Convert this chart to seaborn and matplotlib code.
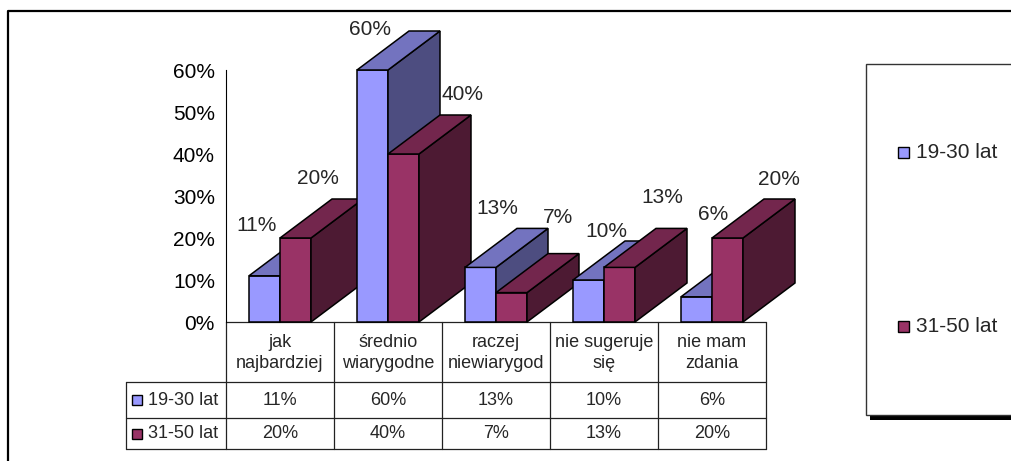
import numpy as np
import pandas as pd
import matplotlib
matplotlib.use("Agg")
import matplotlib.pyplot as plt
import seaborn as sns
from matplotlib.patches import Polygon, Rectangle

# data
categories = ["jak\nnajbardziej", "średnio\nwiarygodne", "raczej\nniewiarygod",
              "nie sugeruje\nsię", "nie mam\nzdania"]
series = ["19-30 lat", "31-50 lat"]
young = [11, 60, 13, 10, 6]
older = [20, 40, 7, 13, 20]
yticks = [0, 10, 20, 30, 40, 50, 60]

colors = ["#9999FF", "#993366"]

# label nudges (pixels, from bar front-left/top corner), bars left to right
label_nudge = [(8, 50), (38, 60), (13, 41), (74, 60), (32, 59),
               (62, 75), (33, 49), (58, 70), (32, 82), (67, 59)]
depth_px = (52, 39)

df = pd.DataFrame({
    "kategoria": categories * 2,
    "grupa": [series[0]] * len(categories) + [series[1]] * len(categories),
    "procent": young + older,
})

sns.set_style("white")
plt.rcParams["font.family"] = ["Liberation Sans", "DejaVu Sans"]

W, H = 1011, 461
fig = plt.figure(figsize=(W / 100, H / 100), dpi=100)

bg = fig.add_axes([0, 0, 1, 1], zorder=0)
bg.set_xlim(0, W)
bg.set_ylim(H, 0)
bg.axis("off")

ax = fig.add_axes([226 / W, 1 - 322 / H, 540 / W, 252 / H], zorder=1)
ax.patch.set_alpha(0)

sns.barplot(data=df, x="kategoria", y="procent", hue="grupa", palette=colors,
            width=0.574, saturation=1, edgecolor="black", linewidth=1.1,
            legend=False, ax=ax)

ax.set_xlim(-0.5, len(categories) - 0.5)
ax.set_ylim(0, 60)
ax.set_xticks([])
ax.set_yticks(yticks)
ax.set_yticklabels([f"{t}%" for t in yticks])
ax.set_xlabel("")
ax.set_ylabel("")
for s in ["top", "right", "bottom"]:
    ax.spines[s].set_visible(False)
ax.spines["left"].set_color("black")
ax.spines["left"].set_linewidth(0.8)
ax.tick_params(axis="y", direction="out", length=4, width=0.8, labelsize=15,
               pad=4, colors="black")

# 3d faces
px_x = ax.bbox.width / (ax.get_xlim()[1] - ax.get_xlim()[0])
px_y = ax.bbox.height / (ax.get_ylim()[1] - ax.get_ylim()[0])
dx = depth_px[0] / px_x
dy = depth_px[1] / px_y

bars = sorted(ax.patches, key=lambda p: p.get_x())
for k, p in enumerate(bars):
    x0, w, h = p.get_x(), p.get_width(), p.get_height()
    fc = np.array(p.get_facecolor()[:3])
    z = 10 + k
    p.set_zorder(z)
    p.set_clip_on(False)
    top = Polygon([(x0, h), (x0 + w, h), (x0 + w + dx, h + dy), (x0 + dx, h + dy)],
                  closed=True, facecolor=fc * 0.75, edgecolor="black", lw=1.1,
                  zorder=z, clip_on=False)
    side = Polygon([(x0 + w, 0), (x0 + w, h), (x0 + w + dx, h + dy), (x0 + w + dx, dy)],
                   closed=True, facecolor=fc * 0.5, edgecolor="black", lw=1.1,
                   zorder=z, clip_on=False)
    ax.add_patch(side)
    ax.add_patch(top)
    ox, oy = label_nudge[k]
    ax.annotate(f"{h:.0f}%", xy=(x0, h), xytext=(ox, oy), textcoords="offset pixels",
                ha="center", va="center", fontsize=15, zorder=100,
                annotation_clip=False)

# data table below the plot
def to_px(x, y):
    X, Y = ax.transData.transform((x, y))
    return X, H - Y

edges = [to_px(i - 0.5, 0)[0] for i in range(len(categories) + 1)]
y_top = to_px(0, 0)[1]
y_head, y_r1, y_r2 = y_top + 60, y_top + 96, y_top + 127
x_lab = edges[0] - 100
lc = "#222222"
lw = 0.9
bg.plot([edges[0], edges[-1]], [y_top, y_top], color=lc, lw=lw)
for yy in [y_head, y_r1, y_r2]:
    bg.plot([x_lab, edges[-1]], [yy, yy], color=lc, lw=lw)
bg.plot([x_lab, x_lab], [y_head, y_r2], color=lc, lw=lw)
for e in edges:
    bg.plot([e, e], [y_top, y_r2], color=lc, lw=lw)

for i, cat in enumerate(categories):
    cx = (edges[i] + edges[i + 1]) / 2
    bg.text(cx, (y_top + y_head) / 2 + 1, cat, ha="center", va="center",
            fontsize=13, linespacing=1.3)
    bg.text(cx, (y_head + y_r1) / 2, f"{young[i]}%", ha="center", va="center", fontsize=13)
    bg.text(cx, (y_r1 + y_r2) / 2, f"{older[i]}%", ha="center", va="center", fontsize=13)

for name, col, (ya, yb) in zip(series, colors, [(y_head, y_r1), (y_r1, y_r2)]):
    yc = (ya + yb) / 2
    bg.add_patch(Rectangle((x_lab + 6, yc - 5), 10, 10, facecolor=col,
                           edgecolor="black", lw=1))
    bg.text(x_lab + 22, yc, name, ha="left", va="center", fontsize=13)

# legend box with shadow
bg.add_patch(Rectangle((870, 415), 160, 5, facecolor="black", edgecolor="none"))
bg.add_patch(Rectangle((866, 64), 160, 351, facecolor="white", edgecolor="#333333", lw=1))
for name, col, yc in zip(series, colors, [152, 326]):
    bg.add_patch(Rectangle((898, yc - 5.5), 11, 11, facecolor=col, edgecolor="black", lw=1))
    bg.text(916, yc, name, ha="left", va="center", fontsize=15)

# outer chart border
bg.plot([8, 8, W + 5], [H + 5, 11, 11], color="black", lw=1.6)

fig.savefig("out.png", dpi=100)
